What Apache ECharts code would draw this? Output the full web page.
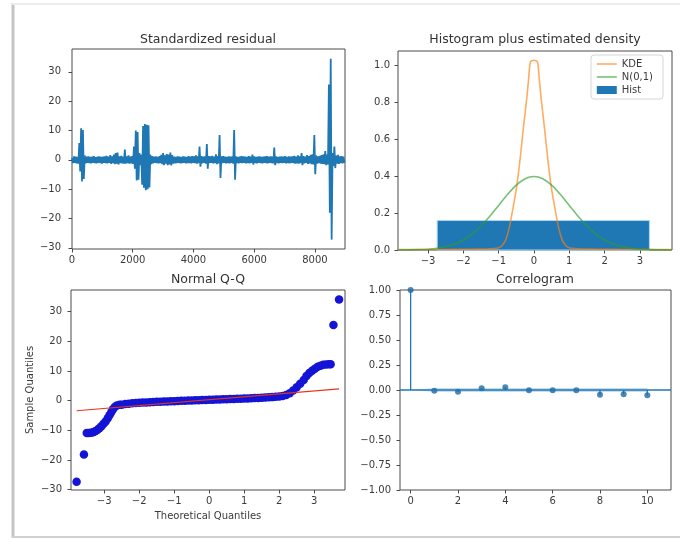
<!DOCTYPE html>
<html>
<head>
<meta charset="utf-8">
<script src="https://cdn.jsdelivr.net/npm/echarts@6/dist/echarts.min.js"></script>
<style>
  html, body { margin: 0; padding: 0; background: #ffffff; }
  #chart { width: 680px; height: 539px; }
</style>
</head>
<body>
<div id="chart"></div>
<script>
// ---- Standardized residual (one value every residStep observations) ----
const residStep = 30;
const residY = [
  0.7,-1.1,1.2,-1.0,1.1,-1.2,1.0,-1.3,5.7,-4.0,
  10.8,-7.4,10.2,-6.5,1.5,-1.2,1.1,-1.0,1.2,-1.1,
  1.0,-1.2,1.1,-1.0,1.3,-1.1,0.9,-1.2,1.1,-1.0,
  1.2,-1.1,1.0,-1.3,1.1,-1.0,1.2,-1.1,1.4,-1.2,
  1.1,-1.0,1.6,-1.4,1.2,-1.1,1.8,-1.5,2.3,-1.3,
  2.5,-1.6,1.2,-1.1,1.4,-1.2,1.1,-1.3,3.5,-1.3,
  1.2,-1.1,1.5,-1.3,1.1,-1.2,1.3,-1.4,4.5,-3.0,
  10.0,-7.0,9.5,-6.8,2.3,-1.8,1.8,-8.5,11.5,-9.5,
  12.2,-10.4,12.0,-10.0,11.8,-9.4,1.8,-1.5,1.3,-1.2,
  1.1,-1.0,1.2,-1.1,1.0,-1.2,1.3,-1.1,1.7,-1.5,
  2.3,-1.8,1.5,-1.3,2.0,-1.8,1.8,-1.6,2.5,-1.9,
  1.6,-1.3,1.1,-1.2,1.0,-1.1,1.2,-1.0,1.1,-1.2,
  1.0,-1.1,1.2,-1.0,1.1,-1.2,1.0,-1.1,1.3,-1.1,
  1.1,-1.2,1.3,-1.0,1.2,-1.1,1.5,-1.3,1.2,-1.1,
  4.5,-2.3,1.3,-1.2,1.1,-1.0,1.2,-1.3,5.4,-3.0,
  1.3,-1.1,1.2,-1.0,1.4,-1.2,1.1,-1.1,1.9,-1.5,
  1.3,-1.2,8.5,-6.2,1.2,-1.1,1.3,-1.0,1.1,-1.2,
  1.0,-1.1,1.2,-1.2,1.1,-1.0,1.2,-1.3,10.2,-6.8,
  1.2,-1.1,1.0,-1.2,1.1,-1.0,1.3,-1.1,1.2,-1.0,
  1.1,-1.2,1.0,-1.1,1.3,-1.2,1.1,-1.0,1.8,-1.6,
  1.2,-1.1,1.0,-1.2,1.1,-1.0,1.2,-1.1,1.0,-1.2,
  1.1,-1.0,1.2,-1.1,1.3,-1.2,1.1,-1.0,1.2,-1.1,
  1.1,-1.2,4.2,-1.8,1.2,-1.1,1.0,-1.2,1.1,-1.0,
  1.2,-1.1,1.1,-1.0,1.3,-1.2,1.0,-1.1,1.2,-1.2,
  1.1,-1.0,1.2,-1.1,1.4,-1.3,1.1,-1.2,1.5,-1.3,
  1.2,-1.1,2.3,-1.8,1.3,-1.2,1.1,-1.0,1.6,-1.4,
  1.3,-1.2,1.7,-1.5,1.9,-1.6,8.5,-4.9,1.5,-1.3,
  1.2,-1.1,1.4,-1.3,1.6,-1.4,1.9,-1.5,3.0,-1.8,
  1.8,-1.6,25.7,-18.0,34.5,-27.2,2.3,-2.1,4.5,-2.8,
  1.5,-1.3,1.7,-1.4,1.2,-1.1,1.3,-1.2,1.1,-1.0
];
const residXTicks = [0, 2000, 4000, 6000, 8000];
const residYTicks = [-30, -20, -10, 0, 10, 20, 30];

// ---- Histogram plus estimated density ----
const histBin = [-2.74, 3.27];      // bin edges
const histDensity = 0.16;           // bin height (density)
const kdeX = [-3.85,-3.0,-2.5,-2.0,-1.6,-1.3,-1.2,-1.0,-0.9,-0.8,-0.7,-0.6,-0.5,-0.4,-0.3,-0.2,-0.15,-0.1,0,
              0.1,0.15,0.2,0.3,0.4,0.5,0.6,0.7,0.8,0.9,1.0,1.2,1.3,1.6,2.0,2.5,3.0,3.91];
const kdeY = [0.002,0.003,0.003,0.004,0.005,0.006,0.007,0.012,0.024,0.055,0.12,0.22,0.33,0.48,0.66,0.83,0.93,1.02,1.03,
              1.02,0.93,0.83,0.66,0.48,0.33,0.22,0.12,0.055,0.024,0.012,0.007,0.006,0.005,0.004,0.003,0.003,0.002];
const normX = [-3.85,-3.5,-3.25,-3.0,-2.75,-2.5,-2.25,-2.0,-1.75,-1.5,-1.25,-1.0,-0.75,-0.5,-0.25,0,
               0.25,0.5,0.75,1.0,1.25,1.5,1.75,2.0,2.25,2.5,2.75,3.0,3.25,3.5,3.91];
const normY = [0.0002,0.0009,0.002,0.0044,0.009,0.0175,0.0317,0.054,0.086,0.13,0.183,0.242,0.301,0.352,0.387,0.399,
               0.387,0.352,0.301,0.242,0.183,0.13,0.086,0.054,0.0317,0.0175,0.009,0.0044,0.002,0.0009,0.0002];
const histXTicks = [-3, -2, -1, 0, 1, 2, 3];
const histYTicks = [0, 0.2, 0.4, 0.6, 0.8, 1.0];

// ---- Normal Q-Q ----
const qqTheo = [-3.79,-3.58,
  -3.5,-3.44,-3.38,-3.32,-3.26,-3.2,-3.14,-3.08,-3.02,-2.96,-2.9,-2.85,-2.8,-2.75,-2.7,-2.64,-2.56,
  -2.5,-2.4,-2.3,-2.2,-2.1,-2.0,-1.9,-1.8,-1.7,-1.6,-1.5,-1.4,-1.3,-1.2,-1.1,-1.0,-0.9,-0.8,-0.7,-0.6,
  -0.5,-0.4,-0.3,-0.2,-0.1,0,0.1,0.2,0.3,0.4,0.5,0.6,0.7,0.8,0.9,1.0,1.1,1.2,1.3,1.4,1.5,1.6,1.7,1.8,
  1.9,2.0,2.1,2.2,2.3,2.4,2.5,2.6,2.7,2.78,2.86,2.94,3.02,3.1,3.18,3.26,3.34,3.42,3.47,
  3.55,3.71];
const qqSample = [-27.3,-18.1,
  -10.9,-10.9,-10.8,-10.6,-10.3,-9.9,-9.3,-8.6,-7.8,-7.0,-5.9,-4.9,-3.9,-2.9,-2.1,-1.6,-1.4,
  -1.35,-1.15,-1.0,-0.9,-0.8,-0.72,-0.65,-0.58,-0.52,-0.46,-0.4,-0.35,-0.3,-0.25,-0.2,-0.15,-0.1,-0.05,0.0,0.05,
  0.1,0.14,0.18,0.22,0.26,0.3,0.34,0.38,0.42,0.46,0.5,0.54,0.58,0.62,0.67,0.72,0.77,0.82,0.87,0.93,0.99,1.05,1.12,1.2,
  1.3,1.42,1.6,1.9,2.5,3.4,4.5,5.7,7.0,8.3,9.3,10.1,10.8,11.4,11.8,12.1,12.2,12.3,12.3,
  25.5,34.1];
const qqLineX = [-3.79, 3.71];
const qqLineY = [-3.4, 3.95];
const qqXTicks = [-3, -2, -1, 0, 1, 2, 3];
const qqYTicks = [-30, -20, -10, 0, 10, 20, 30];

// ---- Correlogram ----
const acfLags = [0, 1, 2, 3, 4, 5, 6, 7, 8, 9, 10];
const acfValues = [1.0, -0.007, -0.017, 0.017, 0.027, -0.003, -0.003, -0.003, -0.047, -0.043, -0.053];
const acfConf = [0, 0.021, 0.021, 0.021, 0.021, 0.021, 0.021, 0.021, 0.021, 0.021, 0.021];
const acfXTicks = [0, 2, 4, 6, 8, 10];
const acfYTicks = [-1.0, -0.75, -0.5, -0.25, 0, 0.25, 0.5, 0.75, 1.0];

// ---- styling helpers ----
const FONT = 'DejaVu Sans';
const AXIS_COLOR = '#4a4a4a';
const LABEL_COLOR = '#3a3a3a';
const minus = s => String(s).replace('-', '\u2212');

function axis(gridIndex, min, max, ticks, fmt, labelMargin, extra) {
  return Object.assign({
    type: 'value', gridIndex, min, max, scale: true,
    axisLine: { show: false, onZero: false },
    splitLine: { show: false },
    axisTick: { show: true, inside: false, length: 3.5, customValues: ticks,
                lineStyle: { color: AXIS_COLOR, width: 1 } },
    axisLabel: { show: true, customValues: ticks, formatter: fmt, margin: labelMargin,
                 color: LABEL_COLOR, fontSize: 10, fontFamily: FONT,
                 showMinLabel: true, showMaxLabel: true }
  }, extra || {});
}

const gridBase = { show: true, borderColor: AXIS_COLOR, borderWidth: 1, backgroundColor: '#ffffff', containLabel: false };

const chart = echarts.init(document.getElementById('chart'), null, { renderer: 'canvas' });

const option = {
  animation: false,
  backgroundColor: '#ffffff',
  textStyle: { fontFamily: FONT },
  grid: [
    Object.assign({ left: 72, top: 49, width: 273, height: 200 }, gridBase),
    Object.assign({ left: 398, top: 51, width: 274, height: 199 }, gridBase),
    Object.assign({ left: 71, top: 290, width: 274, height: 200 }, gridBase),
    Object.assign({ left: 400, top: 290, width: 271, height: 200 }, gridBase)
  ],
  xAxis: [
    axis(0, 0, 8990, residXTicks, v => minus(v), 6),
    axis(1, -3.85, 3.91, histXTicks, v => minus(v), 6),
    axis(2, -3.95, 3.88, qqXTicks, v => minus(v), 6, {
      name: 'Theoretical Quantiles', nameLocation: 'middle', nameGap: 21,
      nameTextStyle: { color: LABEL_COLOR, fontSize: 10, fontFamily: FONT }
    }),
    axis(3, -0.45, 11.0, acfXTicks, v => minus(v), 6)
  ],
  yAxis: [
    axis(0, -30.4, 37.8, residYTicks, v => minus(v), 11),
    axis(1, 0, 1.08, histYTicks, v => v.toFixed(1), 8),
    axis(2, -30.1, 37.3, qqYTicks, v => minus(v), 9, {
      name: 'Sample Quantiles', nameLocation: 'middle', nameGap: 36, nameRotate: 90,
      nameTextStyle: { color: LABEL_COLOR, fontSize: 10, fontFamily: FONT }
    }),
    axis(3, -1.0, 1.0, acfYTicks, v => minus(v.toFixed(2)), 9)
  ],
  legend: {
    left: 591, top: 55, orient: 'vertical',
    padding: [4, 10, 4, 5], itemGap: 3, itemWidth: 20, itemHeight: 8,
    borderColor: '#d6d6d6', borderWidth: 1, borderRadius: 3,
    backgroundColor: 'rgba(255,255,255,0.85)',
    textStyle: { color: LABEL_COLOR, fontSize: 10, fontFamily: FONT },
    lineStyle: { width: 1.6 },
    data: [
      { name: 'KDE', itemStyle: { opacity: 0 } },
      { name: 'N(0,1)', itemStyle: { opacity: 0 } },
      { name: 'Hist', icon: 'rect' }
    ]
  },
  graphic: [
    // page frame
    { type: 'line', silent: true, shape: { x1: 13, y1: 3, x2: 13, y2: 538 }, style: { stroke: '#c4c4c4', lineWidth: 3 } },
    { type: 'line', silent: true, shape: { x1: 12, y1: 537, x2: 680, y2: 537 }, style: { stroke: '#d0d0d0', lineWidth: 2 } },
    { type: 'line', silent: true, shape: { x1: 12, y1: 4, x2: 680, y2: 4 }, style: { stroke: '#ececec', lineWidth: 2 } },
    // panel titles
    { type: 'text', x: 208, y: 40, style: { text: 'Standardized residual', font: '12.5px "DejaVu Sans"', fill: '#333', textAlign: 'center', textVerticalAlign: 'middle' } },
    { type: 'text', x: 535, y: 40, style: { text: 'Histogram plus estimated density', font: '12.5px "DejaVu Sans"', fill: '#333', textAlign: 'center', textVerticalAlign: 'middle' } },
    { type: 'text', x: 208, y: 280, style: { text: 'Normal Q-Q', font: '12.5px "DejaVu Sans"', fill: '#333', textAlign: 'center', textVerticalAlign: 'middle' } },
    { type: 'text', x: 535, y: 280, style: { text: 'Correlogram', font: '12.5px "DejaVu Sans"', fill: '#333', textAlign: 'center', textVerticalAlign: 'middle' } }
  ],
  series: [
    // residual line
    {
      type: 'line', xAxisIndex: 0, yAxisIndex: 0, symbol: 'none', showSymbol: false,
      data: residY.map((y, i) => [i * residStep, y]),
      lineStyle: { color: '#1f77b4', width: 1.8 }, clip: true
    },
    // histogram bin
    {
      name: 'Hist', type: 'custom', xAxisIndex: 1, yAxisIndex: 1,
      itemStyle: { color: '#1f77b4' },
      data: [[histBin[0], histBin[1], histDensity]],
      encode: { x: [0, 1], y: 2 },
      renderItem: (params, api) => {
        const p0 = api.coord([api.value(0), api.value(2)]);
        const p1 = api.coord([api.value(1), 0]);
        return { type: 'rect', shape: { x: p0[0], y: p0[1], width: p1[0] - p0[0], height: p1[1] - p0[1] },
                 style: { fill: '#1f77b4', stroke: '#a9d6f5', lineWidth: 1 } };
      }, z: 2
    },
    {
      name: 'KDE', type: 'line', xAxisIndex: 1, yAxisIndex: 1, symbol: 'none', showSymbol: false, smooth: 0.25,
      data: kdeX.map((x, i) => [x, kdeY[i]]),
      itemStyle: { color: '#ff7f0e' },
      lineStyle: { color: '#ff7f0e', width: 1.6, opacity: 0.65 }, z: 3
    },
    {
      name: 'N(0,1)', type: 'line', xAxisIndex: 1, yAxisIndex: 1, symbol: 'none', showSymbol: false, smooth: 0.3,
      data: normX.map((x, i) => [x, normY[i]]),
      itemStyle: { color: '#2ca02c' },
      lineStyle: { color: '#2ca02c', width: 1.6, opacity: 0.65 }, z: 4
    },
    // Q-Q points and reference line
    {
      type: 'scatter', xAxisIndex: 2, yAxisIndex: 2, symbol: 'circle', symbolSize: 8.5,
      data: qqTheo.map((x, i) => [x, qqSample[i]]),
      itemStyle: { color: '#1414d6', opacity: 1 }, z: 2
    },
    {
      type: 'line', xAxisIndex: 2, yAxisIndex: 2, symbol: 'none', showSymbol: false,
      data: qqLineX.map((x, i) => [x, qqLineY[i]]),
      lineStyle: { color: '#e8341c', width: 1.2 }, z: 3
    },
    // correlogram confidence band
    {
      type: 'custom', xAxisIndex: 3, yAxisIndex: 3,
      data: [[0, 0]],
      renderItem: (params, api) => {
        const upper = acfLags.map((l, i) => api.coord([l, acfConf[i]]));
        const lower = acfLags.map((l, i) => api.coord([l, -acfConf[i]])).reverse();
        return { type: 'polygon', shape: { points: upper.concat(lower) },
                 style: { fill: 'rgba(31,119,180,0.25)' } };
      }, z: 1, silent: true
    },
    // correlogram stems + zero line
    {
      type: 'custom', xAxisIndex: 3, yAxisIndex: 3,
      data: acfLags.map((l, i) => [l, acfValues[i]]),
      renderItem: (params, api) => {
        const a = api.coord([api.value(0), 0]);
        const b = api.coord([api.value(0), api.value(1)]);
        return { type: 'line', shape: { x1: a[0], y1: a[1], x2: b[0], y2: b[1] },
                 style: { stroke: '#1f77b4', lineWidth: 1.3 } };
      },
      markLine: {
        silent: true, symbol: 'none', label: { show: false },
        lineStyle: { color: '#1f77b4', width: 1.5, type: 'solid' },
        data: [{ yAxis: 0 }]
      }, z: 2
    },
    {
      type: 'scatter', xAxisIndex: 3, yAxisIndex: 3, symbol: 'circle', symbolSize: 6,
      data: acfLags.map((l, i) => [l, acfValues[i]]),
      itemStyle: { color: '#1f6aa5' }, z: 3
    }
  ]
};

chart.setOption(option);
</script>
</body>
</html>
